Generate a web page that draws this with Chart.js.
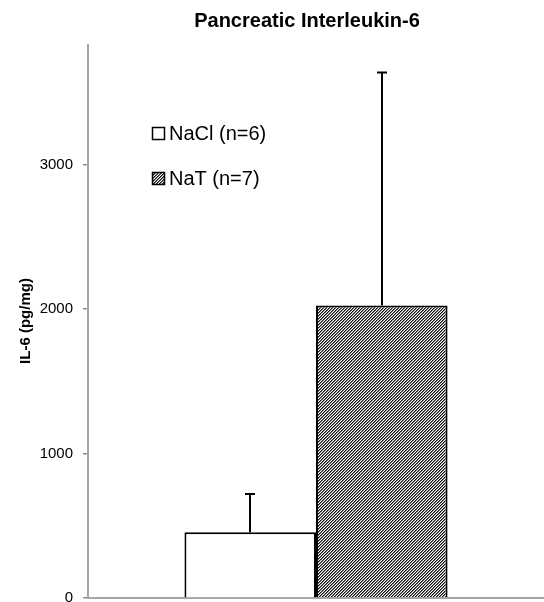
<!DOCTYPE html>
<html>
<head>
<meta charset="utf-8">
<script src="https://cdn.jsdelivr.net/npm/chart.js@4/dist/chart.umd.min.js"></script>
<style>
html,body{margin:0;padding:0;background:#fff;}
#wrap{width:544px;height:602px;position:relative;}
</style>
</head>
<body>
<div id="wrap"><canvas id="c" width="544" height="602"></canvas></div>
<script>
const categories = ['IL-6'];
const seriesLabels = ['NaCl (n=6)', 'NaT (n=7)'];
const means = [455, 2025];
const errorsUp = [265, 1615];
const yTicks = [0, 1000, 2000, 3000];
const chartTitle = 'Pancreatic Interleukin-6';
const yTitle = 'IL-6 (pg/mg)';

const FONT = '"Liberation Sans", Arial, sans-serif';

function makeHatch() {
  const t = document.createElement('canvas');
  t.width = 3; t.height = 3;
  const g = t.getContext('2d');
  const img = g.createImageData(3, 3);
  for (let y = 0; y < 3; y++) {
    for (let x = 0; x < 3; x++) {
      const k = (x + y) % 3;
      const v = k === 0 ? 20 : (k === 1 ? 120 : 255);
      const i = (y * 3 + x) * 4;
      img.data[i] = v; img.data[i+1] = v; img.data[i+2] = v; img.data[i+3] = 255;
    }
  }
  g.putImageData(img, 0, 0);
  return g.createPattern(t, 'repeat');
}
const hatch = makeHatch();
const fills = ['#ffffff', hatch];

const errorBars = {
  id: 'errorBars',
  afterDatasetsDraw(chart) {
    const ctx = chart.ctx;
    const ys = chart.scales.y;
    ctx.save();
    ctx.strokeStyle = '#000';
    ctx.lineWidth = 2;
    chart.data.datasets.forEach((ds, i) => {
      const meta = chart.getDatasetMeta(i);
      meta.data.forEach((bar, j) => {
        const x = Math.round(bar.x);
        const yTop = ys.getPixelForValue(ds.data[j] + errorsUp[i]);
        const yBase = ys.getPixelForValue(ds.data[j]);
        ctx.beginPath();
        ctx.moveTo(x, yBase);
        ctx.lineTo(x, yTop);
        ctx.moveTo(x - 5, yTop);
        ctx.lineTo(x + 5, yTop);
        ctx.stroke();
      });
    });
    ctx.restore();
  }
};

const decorations = {
  id: 'decorations',
  afterDraw(chart) {
    const ctx = chart.ctx;
    ctx.save();
    ctx.fillStyle = '#000';
    ctx.font = 'bold 20px ' + FONT;
    ctx.textAlign = 'center';
    ctx.textBaseline = 'alphabetic';
    ctx.fillText(chartTitle, 307, 27);
    ctx.save();
    ctx.translate(26, 321);
    ctx.rotate(-Math.PI / 2);
    ctx.font = 'bold 15px ' + FONT;
    ctx.textAlign = 'center';
    ctx.textBaseline = 'middle';
    ctx.fillText(yTitle, 0, 0);
    ctx.restore();
    const items = [{y: 127}, {y: 172}];
    ctx.font = '20px ' + FONT;
    ctx.textAlign = 'left';
    ctx.textBaseline = 'middle';
    seriesLabels.forEach((lab, i) => {
      const by = items[i].y;
      ctx.fillStyle = fills[i];
      ctx.fillRect(152, by, 13, 13);
      ctx.strokeStyle = '#000';
      ctx.lineWidth = 1.5;
      ctx.strokeRect(152.5, by + 0.5, 12, 12);
      ctx.fillStyle = '#000';
      ctx.fillText(lab, 169, by + 7);
    });
    ctx.restore();
  }
};

new Chart(document.getElementById('c'), {
  type: 'bar',
  data: {
    labels: categories,
    datasets: seriesLabels.map((lab, i) => ({
      label: lab,
      data: [means[i]],
      backgroundColor: fills[i],
      borderColor: '#000',
      borderWidth: 2,
      borderSkipped: 'bottom',
      barPercentage: 1,
      categoryPercentage: 0.577
    }))
  },
  options: {
    responsive: false,
    animation: false,
    devicePixelRatio: 1,
    layout: { padding: { left: 0, right: -3, top: 45, bottom: 4 } },
    plugins: {
      legend: { display: false },
      title: { display: false },
      tooltip: { enabled: false }
    },
    scales: {
      x: {
        display: true,
        ticks: { display: false },
        grid: { display: false },
        border: { display: true, color: '#a6a6a6', width: 2 },
        afterFit(s) { s.height = 0; s.paddingLeft = 0; s.paddingRight = 0; }
      },
      y: {
        min: 0,
        max: 3830,
        afterBuildTicks(s) { s.ticks = yTicks.map(v => ({ value: v })); },
        ticks: {
          color: '#000',
          font: { family: FONT, size: 15 },
          padding: 10,
          callback: (v) => String(v)
        },
        grid: {
          display: true,
          drawOnChartArea: false,
          drawTicks: true,
          tickLength: 5,
          color: '#8c8c8c',
          lineWidth: 1.5
        },
        border: { display: true, color: '#a6a6a6', width: 2 },
        afterFit(s) { s.width = 88; s.paddingTop = 0; s.paddingBottom = 0; }
      }
    }
  },
  plugins: [errorBars, decorations]
});
</script>
</body>
</html>
